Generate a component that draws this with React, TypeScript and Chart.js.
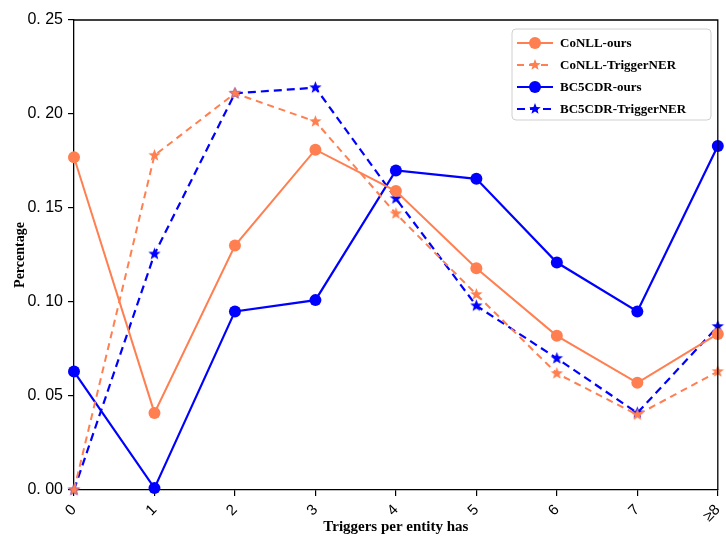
import React, { useEffect, useRef } from "react";
import { Chart, registerables } from "chart.js";

Chart.register(...registerables);

const categories = ["0", "1", "2", "3", "4", "5", "6", "7", "≥8"];
const conllOurs = [0.177, 0.041, 0.130, 0.181, 0.159, 0.118, 0.082, 0.057, 0.083];
const conllTrigger = [0.0, 0.178, 0.211, 0.196, 0.147, 0.104, 0.062, 0.040, 0.063];
const bc5Ours = [0.063, 0.001, 0.095, 0.101, 0.170, 0.1655, 0.121, 0.095, 0.183];
const bc5Trigger = [0.0, 0.1255, 0.211, 0.214, 0.155, 0.098, 0.070, 0.041, 0.087];
const yTicks = [0, 0.05, 0.1, 0.15, 0.2, 0.25];

const ORANGE = "#FF7F50";
const BLUE = "#0000FF";

function starPath(ctx: CanvasRenderingContext2D, cx: number, cy: number, ro: number, ri: number) {
  ctx.beginPath();
  for (let i = 0; i < 10; i++) {
    const r = i % 2 === 0 ? ro : ri;
    const a = -Math.PI / 2 + (i * Math.PI) / 5;
    const x = cx + r * Math.cos(a);
    const y = cy + r * Math.sin(a);
    if (i === 0) ctx.moveTo(x, y);
    else ctx.lineTo(x, y);
  }
  ctx.closePath();
}

function makeStar(color: string, ro: number) {
  const c = document.createElement("canvas");
  const s = Math.ceil(ro * 2 + 2);
  c.width = s;
  c.height = s;
  const ctx = c.getContext("2d")!;
  ctx.fillStyle = color;
  starPath(ctx, s / 2, s / 2, ro, ro * 0.42);
  ctx.fill();
  return c;
}

export default function App() {
  const ref = useRef<HTMLCanvasElement>(null);

  useEffect(() => {
    document.body.style.margin = "0";
    const orangeStar = makeStar(ORANGE, 6.5);
    const blueStar = makeStar(BLUE, 6.5);

    const frameLegend = {
      id: "frameLegend",
      afterDraw(chart: any) {
        const { ctx, chartArea } = chart;
        const { left, right, top, bottom } = chartArea;
        ctx.save();
        ctx.strokeStyle = "#000";
        ctx.lineWidth = 1.3;
        ctx.beginPath();
        ctx.moveTo(left, top);
        ctx.lineTo(right, top);
        ctx.lineTo(right, bottom);
        ctx.stroke();

        // legend box
        const bx = 512, by = 29, bw = 199, bh = 91;
        ctx.fillStyle = "rgba(255,255,255,0.85)";
        ctx.strokeStyle = "#d0d0d0";
        ctx.lineWidth = 1;
        ctx.beginPath();
        (ctx as any).roundRect(bx, by, bw, bh, 4);
        ctx.fill();
        ctx.stroke();

        chart.data.datasets.forEach((ds: any, i: number) => {
          const y = 43 + i * 22;
          ctx.strokeStyle = ds.borderColor;
          ctx.lineWidth = ds.borderWidth;
          ctx.setLineDash(ds.borderDash || []);
          ctx.beginPath();
          ctx.moveTo(517, y);
          ctx.lineTo(553, y);
          ctx.stroke();
          ctx.setLineDash([]);
          ctx.fillStyle = ds.borderColor;
          if (ds.markerKind === "circle") {
            ctx.beginPath();
            ctx.arc(535, y, 6, 0, Math.PI * 2);
            ctx.fill();
          } else {
            starPath(ctx, 535, y, 6, 2.6);
            ctx.fill();
          }
          ctx.fillStyle = "#000";
          ctx.font = "bold 13px 'Liberation Serif', serif";
          ctx.textBaseline = "middle";
          ctx.textAlign = "left";
          ctx.fillText(ds.label, 560, y + 1);
        });
        ctx.restore();
      },
    };

    const chart = new Chart(ref.current!, {
      type: "line",
      data: {
        labels: categories,
        datasets: [
          {
            label: "CoNLL-ours",
            data: conllOurs,
            borderColor: ORANGE,
            backgroundColor: ORANGE,
            borderWidth: 2,
            pointStyle: "circle",
            pointRadius: 6,
            pointBorderWidth: 0,
            markerKind: "circle",
            clip: false,
          } as any,
          {
            label: "CoNLL-TriggerNER",
            data: conllTrigger,
            borderColor: ORANGE,
            backgroundColor: ORANGE,
            borderWidth: 2,
            borderDash: [7, 5],
            pointStyle: orangeStar,
            pointRadius: 6,
            markerKind: "star",
            clip: false,
          } as any,
          {
            label: "BC5CDR-ours",
            data: bc5Ours,
            borderColor: BLUE,
            backgroundColor: BLUE,
            borderWidth: 2.2,
            pointStyle: "circle",
            pointRadius: 6,
            pointBorderWidth: 0,
            markerKind: "circle",
            clip: false,
          } as any,
          {
            label: "BC5CDR-TriggerNER",
            data: bc5Trigger,
            borderColor: BLUE,
            backgroundColor: BLUE,
            borderWidth: 2.2,
            borderDash: [8, 5],
            pointStyle: blueStar,
            pointRadius: 6,
            markerKind: "star",
            clip: false,
          } as any,
        ],
      },
      options: {
        animation: false,
        responsive: true,
        maintainAspectRatio: false,
        layout: { padding: { top: 20, right: 7, left: 0, bottom: 0 } },
        plugins: {
          legend: { display: false },
          tooltip: { enabled: false },
        },
        scales: {
          x: {
            offset: false,
            grid: {
              drawOnChartArea: false,
              color: "#000",
              tickLength: 6,
              lineWidth: 1.2,
            },
            border: { color: "#000", width: 1.3 },
            ticks: {
              color: "#000",
              font: { family: "'Liberation Sans', sans-serif", size: 15 },
              minRotation: 45,
              maxRotation: 45,
              padding: 5,
              autoSkip: false,
            },
            title: {
              display: true,
              text: "Triggers per entity has",
              color: "#000",
              font: { family: "'Liberation Serif', serif", size: 15, weight: "bold" },
              padding: { top: 0, bottom: 0 },
            },
            afterFit(scale: any) {
              scale.height = 46;
              scale.paddingRight = 0;
              scale.paddingLeft = 0;
            },
          },
          y: {
            min: 0,
            max: 0.25,
            afterBuildTicks(scale: any) {
              scale.ticks = yTicks.map((v) => ({ value: v }));
            },
            grid: {
              drawOnChartArea: false,
              color: "#000",
              tickLength: 6,
              lineWidth: 1.2,
            },
            border: { color: "#000", width: 1.3 },
            ticks: {
              color: "#000",
              font: { family: "'Liberation Sans', sans-serif", size: 16 },
              padding: 5,
              callback: (v: any) => Number(v).toFixed(2).replace(".", ". "),
            },
            title: {
              display: true,
              text: "Percentage",
              color: "#000",
              font: { family: "'Liberation Serif', serif", size: 14, weight: "bold" },
              padding: { top: 12, bottom: 0 },
            },
            afterFit(scale: any) {
              scale.width = 74;
            },
          },
        },
      },
      plugins: [frameLegend],
    });
    return () => chart.destroy();
  }, []);

  return (
    <div style={{ width: 726, height: 536, position: "relative" }}>
      <canvas ref={ref} />
    </div>
  );
}
